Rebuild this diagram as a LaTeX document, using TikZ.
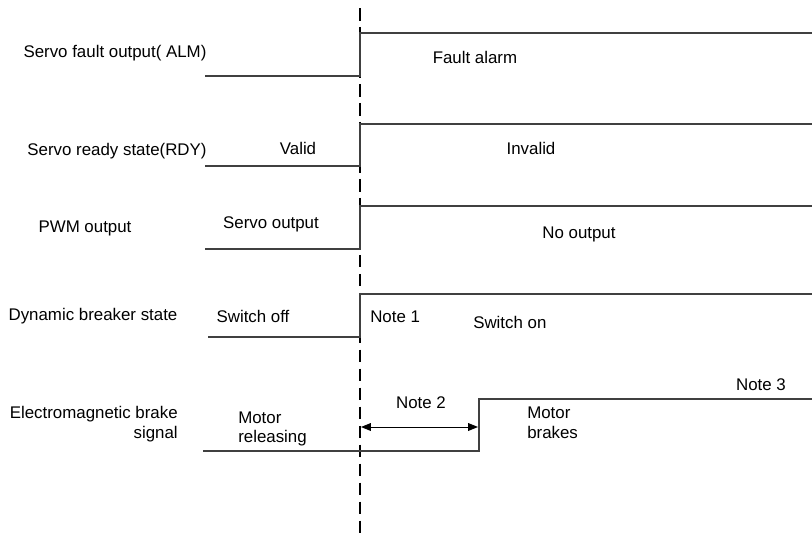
\documentclass[tikz,border=0pt]{standalone}
\usepackage{fontspec}
\setmainfont{Liberation Sans}
\usetikzlibrary{arrows.meta}

\tikzset{
  sig/.style={line width=0.8pt, black!75},
  marker/.style={line width=2pt, black, dash pattern=on 9pt off 4.5pt},
  lbl/.style={font=\fontsize{12}{14}\selectfont, inner sep=0pt},
}

\begin{document}
\begin{tikzpicture}[x=0.025cm, y=-0.025cm]
    \useasboundingbox (0,0) rectangle (812,533);

    % 故障时刻的虚线
    \coordinate (T0) at (360, 8);
    \coordinate (T1) at (360, 533);
    \draw[marker] (T0) -- (T1);

    % 信号名称
    \node[lbl] (nALM) at (115, 53) {Servo fault output( ALM)};
    \node[lbl] (nRDY) at (117, 151) {Servo ready state(RDY)};
    \node[lbl] (nPWM) at (85, 228) {PWM output};
    \node[lbl] (nDB) at (93, 316) {Dynamic breaker state};
    \node[lbl, anchor=east, align=right] (nBRK) at (178, 424) {Electromagnetic brake\\signal};

    % ALM: 低 -> 高
    \coordinate (A1) at (205, 76);
    \coordinate (A2) at (360, 76);
    \coordinate (A3) at (360, 33);
    \coordinate (A4) at (812, 33);
    \draw[sig] (A1) -- (A2) -- (A3) -- (A4);
    \node[lbl] (tFault) at (475, 57) {Fault alarm};

    % RDY
    \coordinate (R1) at (205, 166);
    \coordinate (R2) at (360, 166);
    \coordinate (R3) at (360, 124);
    \coordinate (R4) at (812, 124);
    \draw[sig] (R1) -- (R2) -- (R3) -- (R4);
    \node[lbl] (tValid) at (298, 148) {Valid};
    \node[lbl] (tInvalid) at (531, 148) {Invalid};

    % PWM
    \coordinate (P1) at (205, 249);
    \coordinate (P2) at (360, 249);
    \coordinate (P3) at (360, 206);
    \coordinate (P4) at (812, 206);
    \draw[sig] (P1) -- (P2) -- (P3) -- (P4);
    \node[lbl] (tServo) at (271, 224) {Servo output};
    \node[lbl] (tNo) at (579, 234) {No output};

    % 动态制动
    \coordinate (D1) at (208, 337);
    \coordinate (D2) at (360, 337);
    \coordinate (D3) at (360, 294);
    \coordinate (D4) at (812, 294);
    \draw[sig] (D1) -- (D2) -- (D3) -- (D4);
    \node[lbl] (tOff) at (253, 316) {Switch off};
    \node[lbl, anchor=west] (tNote1) at (370, 317) {Note 1};
    \node[lbl, anchor=west] (tOn) at (473, 322) {Switch on};

    % 电磁制动信号 (延迟后上升)
    \coordinate (B1) at (203, 451);
    \coordinate (B2) at (479, 451);
    \coordinate (B3) at (479, 399);
    \coordinate (B4) at (812, 399);
    \draw[sig] (B1) -- (B2) -- (B3) -- (B4);
    \node[lbl, anchor=west, align=left] (tRel) at (238, 429) {Motor\\releasing};
    \node[lbl, anchor=west, align=left] (tBrk) at (527, 423) {Motor\\brakes};
    \node[lbl] (tNote3) at (761, 385) {Note 3};

    % 延迟时间
    \coordinate (N2a) at (361, 427);
    \coordinate (N2b) at (478, 427);
    \draw[black, line width=0.7pt, {Triangle[length=7pt,width=5.5pt]}-{Triangle[length=7pt,width=5.5pt]}] (N2a) -- (N2b);
    \node[lbl] (tNote2) at (421, 403) {Note 2};
\end{tikzpicture}
\end{document}
